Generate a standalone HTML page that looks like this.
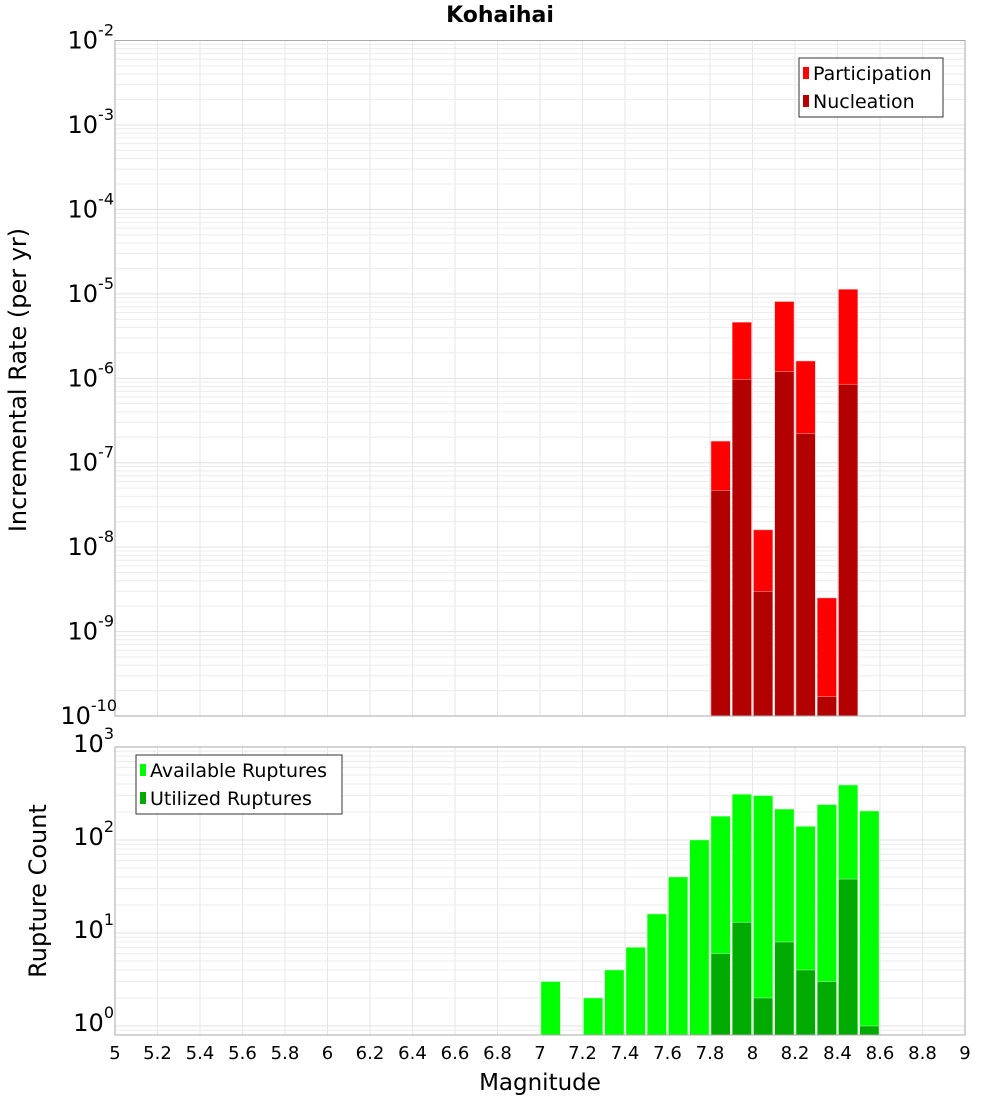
<!DOCTYPE html>
<html><head><meta charset="utf-8"><style>
body{margin:0;background:#fff;}
svg{display:block;font-family:"DejaVu Sans","Liberation Sans",sans-serif;}
</style></head><body>
<svg id="c" width="1000" height="1100" xmlns="http://www.w3.org/2000/svg"></svg>
<script>
const magCenters=[7.85,7.95,8.05,8.15,8.25,8.35,8.45];
const participation=[1.8e-7,4.6e-6,1.6e-8,8.1e-6,1.6e-6,2.5e-9,1.13e-5];
const nucleation=[4.7e-8,9.7e-7,3.0e-9,1.2e-6,2.2e-7,1.7e-10,8.5e-7];
const countMags=[7.05,7.25,7.35,7.45,7.55,7.65,7.75,7.85,7.95,8.05,8.15,8.25,8.35,8.45,8.55];
const available=[3,2,4,7,16,40,100,180,310,300,215,140,240,390,205];
const utilMags=[7.85,7.95,8.05,8.15,8.25,8.35,8.45,8.55];
const utilized=[6,13,2,8,4,3,38,1];
const xTicks=[5,5.2,5.4,5.6,5.8,6,6.2,6.4,6.6,6.8,7,7.2,7.4,7.6,7.8,8,8.2,8.4,8.6,8.8,9];
const topExps=[-2,-3,-4,-5,-6,-7,-8,-9,-10];
const botExps=[3,2,1,0];

const NS="http://www.w3.org/2000/svg";
const svg=document.getElementById('c');
function el(tag,attrs,parent){const e=document.createElementNS(NS,tag);for(const k in attrs)e.setAttribute(k,attrs[k]);(parent||svg).appendChild(e);return e;}
const X0=115,X1=965;
const xs=m=>X0+(m-5)/4*(X1-X0);
const T0=40.5,T1=716;
const ty=v=>T0+(-2-Math.log10(v))/8*(T1-T0);
const B0=747,B1=1035,BMIN=Math.log10(0.8);
const by=v=>B0+(3-Math.log10(v))/(3-BMIN)*(B1-B0);

function grid(yTop,yBot,yFn,decFrom,decTo){
  xTicks.forEach(t=>{const l=el('line',{x1:xs(t),x2:xs(t),y1:yTop,y2:yBot,stroke:'#e6e6e6','stroke-width':1});
    });
  for(let d=decFrom;d<decTo;d++){for(let k=1;k<10;k++){const y=yFn(k*Math.pow(10,d));if(y<yTop-0.5||y>yBot+0.5)continue;
    const l=el('line',{x1:X0,x2:X1,y1:y,y2:y,stroke:k==1?'#e0e0e0':'#ececec','stroke-width':1});
    }}
}
grid(T0,T1,ty,-10,-1);
grid(B0,B1,by,-1,3);

const title=el('text',{x:500,y:22,'text-anchor':'middle','font-size':22,'font-weight':'bold'});title.textContent='Kohaihai';


function bars(mags,vals,yFn,base,color,name,edge){
  mags.forEach((m,i)=>{const x=xs(m-0.05)+1,w=xs(m+0.05)-xs(m-0.05)-2,y=yFn(vals[i]);
    const r=el('rect',{x:x,y:y,width:w,height:base-y,fill:color,stroke:edge,'stroke-width':0.5});
    });
}
bars(magCenters,participation,ty,T1,'#ff0000','participation-bar','#ffb0b0');
bars(magCenters,nucleation,ty,T1,'#b30000','nucleation-bar','#ffb0b0');
bars(countMags,available,by,B1,'#00ff00','available-ruptures-bar','#b0ffb0');
bars(utilMags,utilized,by,B1,'#00aa00','utilized-ruptures-bar','#b0ffb0');

const f1=el('rect',{x:X0,y:T0,width:X1-X0,height:T1-T0,fill:'none',stroke:'#aaa','stroke-width':1});

const f2=el('rect',{x:X0,y:B0,width:X1-X0,height:B1-B0,fill:'none',stroke:'#aaa','stroke-width':1});


function pow10(x,y,e,name){const t=el('text',{x:x,y:y,'text-anchor':'end','font-size':24});
  const a=el('tspan',{},t);a.textContent='10';const b=el('tspan',{dy:-13,'font-size':16},t);b.textContent=String(e);
  }
topExps.forEach(e=>pow10(e<=-10?117:114,ty(Math.pow(10,e))+8,e,'top-y-tick-label'));
botExps.forEach(e=>pow10(114,by(Math.pow(10,e))+5,e,'bottom-y-tick-label'));
xTicks.forEach(t=>{const tx=el('text',{x:xs(t),y:1059,'text-anchor':'middle','font-size':18});tx.textContent=String(t);
  });

const xt=el('text',{x:540,y:1090,'text-anchor':'middle','font-size':23});xt.textContent='Magnitude';

const yt1=el('text',{x:0,y:0,'text-anchor':'middle','font-size':24,transform:'translate(26,380) rotate(-90)'});yt1.textContent='Incremental Rate (per yr)';

const yt2=el('text',{x:0,y:0,'text-anchor':'middle','font-size':24,transform:'translate(46,891) rotate(-90)'});yt2.textContent='Rupture Count';


function legend(x,y,w,items,name){
  const g=el('g',{});
  el('rect',{x:x,y:y,width:w,height:59,fill:'#fff',stroke:'#333','stroke-width':1},g);
  items.forEach((it,i)=>{const yy=y+15+i*28;
    const s=el('rect',{x:x+4,y:yy-6,width:6,height:12,fill:it[1]},g);
    
    const t=el('text',{x:x+14,y:yy+7,'font-size':19},g);t.textContent=it[0];
    });
}
legend(799,58,144,[['Participation','#ff0000'],['Nucleation','#b30000']],'top-legend');
legend(136,755,206,[['Available Ruptures','#00ff00'],['Utilized Ruptures','#00aa00']],'bottom-legend');
</script>
</body></html>
